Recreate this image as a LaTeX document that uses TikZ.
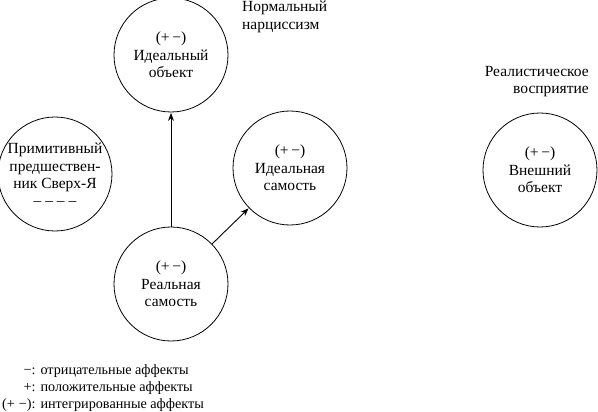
\documentclass[tikz,border=0pt]{standalone}
\usepackage{fontspec}
\setmainfont{Liberation Serif}
\usetikzlibrary{arrows.meta}
\tikzset{
  ent/.style={circle, draw, line width=0.8pt, minimum size=114pt, inner sep=0pt, align=center,
    font=\fontsize{15.5}{17.5}\selectfont},
  lbl/.style={align=left, inner sep=0pt, font=\fontsize{15.5}{17.5}\selectfont},
  conn/.style={line width=0.9pt, -{Stealth[length=8pt,width=6pt]}, shorten >=0.5pt}
}
\begin{document}
\begin{tikzpicture}[x=1pt,y=-1pt]
\useasboundingbox (0,0) rectangle (598,412);
\node[ent] (iobj) at (171,55) {(+\,−)\\Идеальный\\объект};
\node[ent] (prim) at (55,174) {Примитивный\\предшествен-\\ник Сверх-Я\\[-1pt]– – – –};
\node[ent] (iself) at (290,168) {(+\,−)\\Идеальная\\самость};
\node[ent] (rself) at (171,284) {(+\,−)\\Реальная\\самость};
\node[ent] (ext) at (540,170) {(+\,−)\\Внешний\\объект};
\node[lbl, anchor=north west] (norm) at (242,1) {Нормальный\\нарциссизм};
\node[lbl, align=right, anchor=north east] (real) at (589,66) {Реалистическое\\восприятие};
\node[lbl, anchor=north west, font=\fontsize{14.2}{16.8}\selectfont] (legend) at (2,363) {%
  \begin{tabular}{@{}r@{\hspace{5pt}}l@{}}
  −: & отрицательные аффекты\\
  +: & положительные аффекты\\
  (+\;−): & интегрированные аффекты
  \end{tabular}};
\draw[conn] (rself) -- (iobj);
\draw[conn] (rself) -- (iself);
\end{tikzpicture}
\end{document}
